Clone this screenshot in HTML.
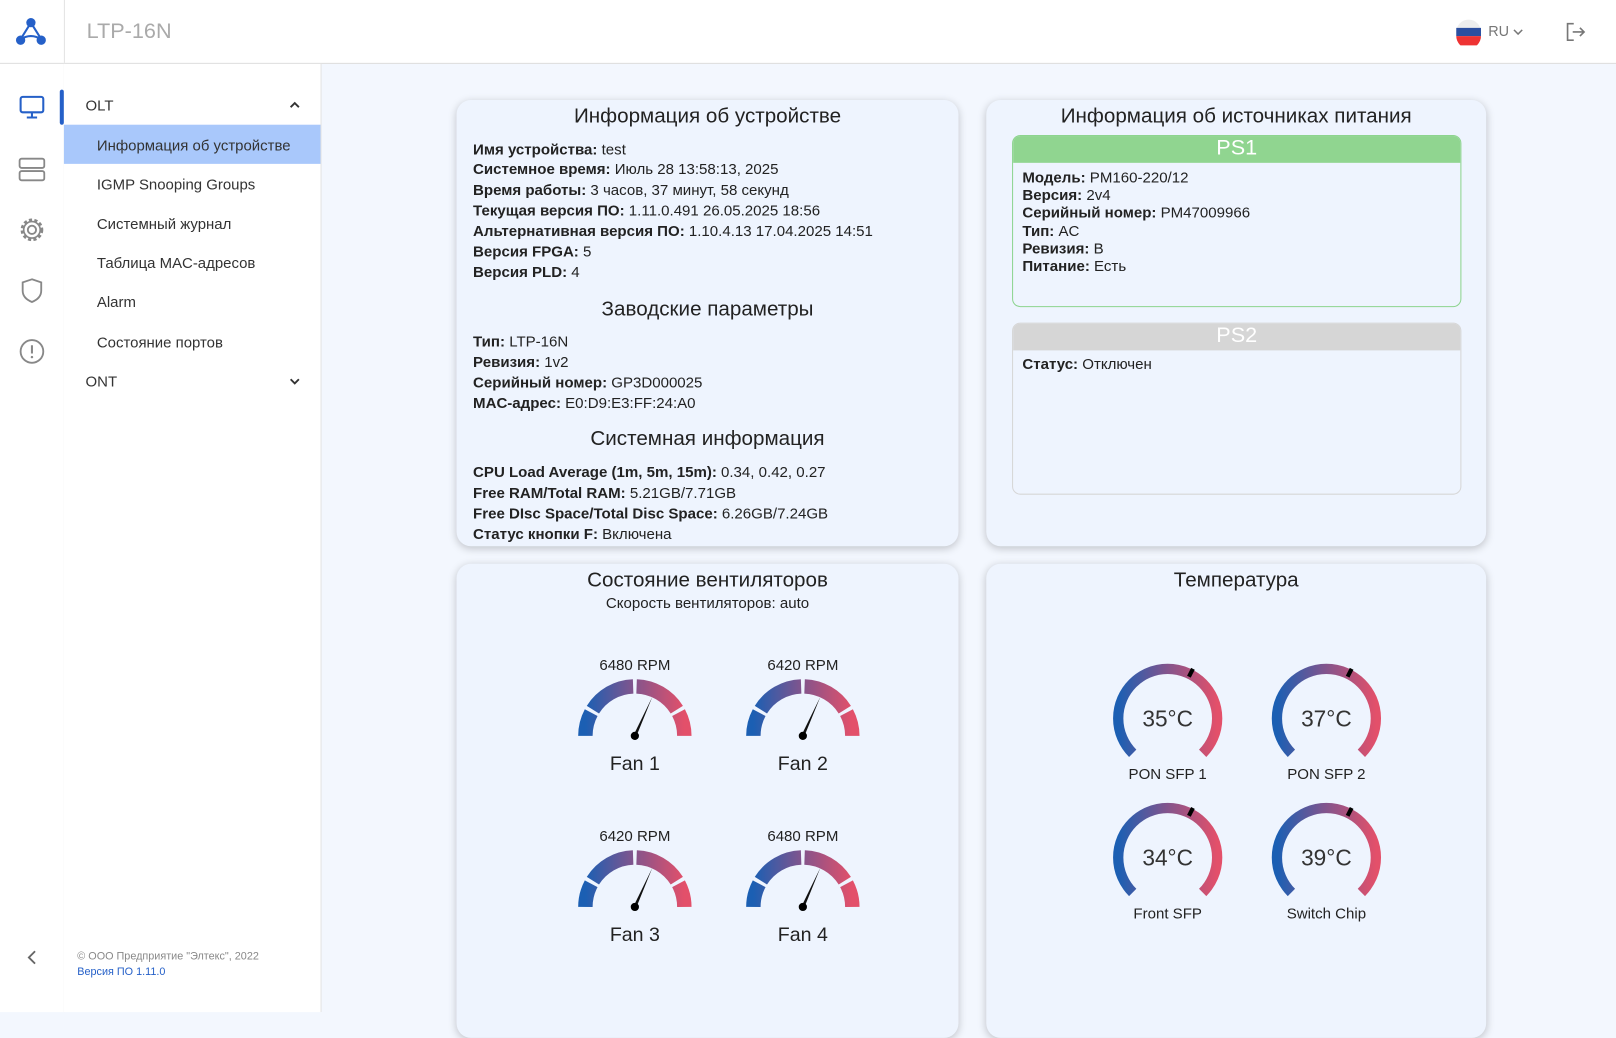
<!DOCTYPE html>
<html><head><meta charset="utf-8"><style>
html,body{margin:0;padding:0;width:1616px;height:994px;overflow:hidden;background:#f3f7fe}
#w{position:absolute;left:0;top:0;width:1568px;height:980px;transform:scale(1.030612);transform-origin:0 0;font-family:"Liberation Sans","DejaVu Sans",sans-serif;color:#222}
.a{position:absolute}
.hdr{left:0;top:0;width:1568px;height:61px;background:#fff;border-bottom:1px solid #ddd}
.icol{left:0;top:62px;width:62px;height:920px;background:#fff;border-right:1px solid #e3e3e3}
.menu{left:62px;top:62px;width:249px;height:920px;background:#fff;border-right:1px solid #e3e3e3}
.mi{position:absolute;left:32px;font-size:14.5px;color:#333}
.card{position:absolute;background:#eef4fe;border-radius:14px;box-shadow:0 2px 8px rgba(0,0,0,.22)}
.t{position:absolute;width:100%;text-align:center;font-size:20px;color:#222}
.ln{position:absolute;left:16px;font-size:14.6px;color:#222;white-space:nowrap}
.ln b{font-weight:bold}
.ps{position:absolute;left:25px;width:434px;border-radius:8px;overflow:hidden;background:#eef4fe}
.psh{height:26px;text-align:center;color:#fff;font-size:21px;line-height:24px}
.ic{position:absolute;left:18px;width:26px;height:26px}
</style></head><body><div id="w">
<div class="a hdr"></div>
<div class="a" style="left:62px;top:0;width:1px;height:61px;background:#e3e3e3"></div>
<svg class="a" style="left:14px;top:16px" width="32" height="30" viewBox="0 0 32 30"><line x1="16" y1="6" x2="6" y2="22" stroke="#2560c8" stroke-width="2"/><line x1="16" y1="6" x2="26" y2="22" stroke="#2560c8" stroke-width="2"/><path d="M6 22 Q16 16 26 22" stroke="#2560c8" stroke-width="2" fill="none"/><circle cx="16" cy="6" r="4.5" fill="#2560c8"/><circle cx="6" cy="23" r="4.5" fill="#2560c8"/><circle cx="26" cy="23" r="4.5" fill="#2560c8"/></svg>
<div class="a" style="left:84px;top:19px;font-size:21px;color:#aaa">LTP-16N</div>
<svg class="a" style="left:1412px;top:18px" width="26" height="26"><circle cx="13" cy="13" r="12" fill="#eee"/><path d="M1 9h24v8H1z" fill="#2c4fa0"/><path d="M1 17h24a12 12 0 0 1-24 0z" fill="#e33"/></svg>
<div class="a" style="left:1444px;top:22px;font-size:14px;color:#777">RU</div>
<svg class="a" style="left:1467px;top:26px" width="12" height="10"><path d="M2 3l4 4 4-4" stroke="#777" stroke-width="1.5" fill="none"/></svg>
<svg class="a" style="left:1518px;top:20px" width="22" height="22"><path d="M9 3H3v16h6M8 11h11M15 7l4 4-4 4" stroke="#777" stroke-width="1.6" fill="none"/></svg>
<div class="a icol">
<svg class="ic" style="top:29px" viewBox="0 0 26 26"><rect x="2" y="3" width="22" height="15" rx="2" fill="none" stroke="#2560c8" stroke-width="2"/><path d="M13 18v5M8 23h10" stroke="#2560c8" stroke-width="2"/></svg>
<svg class="ic" style="top:89px" viewBox="0 0 26 26"><rect x="1" y="3" width="24" height="9" rx="2" fill="none" stroke="#888" stroke-width="1.8"/><rect x="1" y="15" width="24" height="9" rx="2" fill="none" stroke="#888" stroke-width="1.8"/></svg>
<svg class="ic" style="top:148px" viewBox="0 0 26 26"><circle cx="13" cy="13" r="4" fill="none" stroke="#888" stroke-width="1.8"/><circle cx="13" cy="13" r="9.5" fill="none" stroke="#888" stroke-width="3" stroke-dasharray="3 2.2"/><circle cx="13" cy="13" r="8" fill="none" stroke="#888" stroke-width="1.6"/></svg>
<svg class="ic" style="top:207px" viewBox="0 0 26 26"><path d="M13 2l9 3v8c0 6-4 9-9 11-5-2-9-5-9-11V5z" fill="none" stroke="#888" stroke-width="1.8"/></svg>
<svg class="ic" style="top:266px" viewBox="0 0 26 26"><circle cx="13" cy="13" r="11" fill="none" stroke="#888" stroke-width="1.8"/><path d="M13 7v8" stroke="#888" stroke-width="2"/><circle cx="13" cy="18.5" r="1.2" fill="#888"/></svg>
<svg class="a" style="left:24px;top:859px" width="14" height="16"><path d="M10 2L4 8l6 6" stroke="#666" stroke-width="1.8" fill="none"/></svg>
</div>
<div class="a" style="left:58px;top:87px;width:4px;height:34px;background:#2560c8;border-radius:3px"></div>
<div class="a menu">
<div class="mi" style="left:21px;top:33px">OLT</div>
<svg class="a" style="left:218px;top:35px" width="12" height="10"><path d="M2 7l4-4 4 4" stroke="#333" stroke-width="1.8" fill="none"/></svg>
<div class="a" style="left:0;top:59px;width:249px;height:38px;background:#a9c8fb"></div>
<div class="mi" style="top:72px">Информация об устройстве</div>
<div class="mi" style="top:110px">IGMP Snooping Groups</div>
<div class="mi" style="top:148px">Системный журнал</div>
<div class="mi" style="top:186px">Таблица MAC-адресов</div>
<div class="mi" style="top:224px">Alarm</div>
<div class="mi" style="top:263px">Состояние портов</div>
<div class="mi" style="left:21px;top:301px">ONT</div>
<svg class="a" style="left:218px;top:303px" width="12" height="10"><path d="M2 3l4 4 4-4" stroke="#333" stroke-width="1.8" fill="none"/></svg>
<div class="a" style="left:13px;top:860px;font-size:10.5px;color:#888">© ООО Предприятие "Элтекс", 2022</div>
<div class="a" style="left:13px;top:875px;font-size:10.5px;color:#2560c8">Версия ПО 1.11.0</div>
</div>

<div class="card" style="left:443px;top:97px;width:487px;height:433px">
<div class="t" style="top:5px">Информация об устройстве</div>
<div class="ln" style="top:41px"><b>Имя устройства:</b> test</div>
<div class="ln" style="top:60px"><b>Системное время:</b> Июль 28 13:58:13, 2025</div>
<div class="ln" style="top:80px"><b>Время работы:</b> 3 часов, 37 минут, 58 секунд</div>
<div class="ln" style="top:100px"><b>Текущая версия ПО:</b> 1.11.0.491 26.05.2025 18:56</div>
<div class="ln" style="top:120px"><b>Альтернативная версия ПО:</b> 1.10.4.13 17.04.2025 14:51</div>
<div class="ln" style="top:140px"><b>Версия FPGA:</b> 5</div>
<div class="ln" style="top:160px"><b>Версия PLD:</b> 4</div>
<div class="t" style="top:192px">Заводские параметры</div>
<div class="ln" style="top:227px"><b>Тип:</b> LTP-16N</div>
<div class="ln" style="top:247px"><b>Ревизия:</b> 1v2</div>
<div class="ln" style="top:267px"><b>Серийный номер:</b> GP3D000025</div>
<div class="ln" style="top:287px"><b>MAC-адрес:</b> E0:D9:E3:FF:24:A0</div>
<div class="t" style="top:318px">Системная информация</div>
<div class="ln" style="top:354px"><b>CPU Load Average (1m, 5m, 15m):</b> 0.34, 0.42, 0.27</div>
<div class="ln" style="top:374px"><b>Free RAM/Total RAM:</b> 5.21GB/7.71GB</div>
<div class="ln" style="top:394px"><b>Free DIsc Space/Total Disc Space:</b> 6.26GB/7.24GB</div>
<div class="ln" style="top:414px"><b>Статус кнопки F:</b> Включена</div>
</div>

<div class="card" style="left:957px;top:97px;width:485px;height:433px">
<div class="t" style="top:5px">Информация об источниках питания</div>
<div class="ps" style="top:34px;height:165px;border:1px solid #8dd48f">
<div class="psh" style="background:#90d590">PS1</div>
<div class="ln" style="left:9px;top:33px"><b>Модель:</b> PM160-220/12</div>
<div class="ln" style="left:9px;top:50px"><b>Версия:</b> 2v4</div>
<div class="ln" style="left:9px;top:67px"><b>Серийный номер:</b> PM47009966</div>
<div class="ln" style="left:9px;top:85px"><b>Тип:</b> AC</div>
<div class="ln" style="left:9px;top:102px"><b>Ревизия:</b> B</div>
<div class="ln" style="left:9px;top:119px"><b>Питание:</b> Есть</div>
</div>
<div class="ps" style="top:216px;height:165px;border:1px solid #d6d6d6">
<div class="psh" style="background:#d6d6d6">PS2</div>
<div class="ln" style="left:9px;top:32px"><b>Статус:</b> Отключен</div>
</div>
</div>

<div class="card" style="left:443px;top:547px;width:487px;height:460px">
<div class="t" style="top:5px">Состояние вентиляторов</div>
<div class="t" style="top:31px;font-size:14.6px">Скорость вентиляторов: auto</div>
</div>
<div class="card" style="left:957px;top:547px;width:485px;height:460px">
<div class="t" style="top:5px">Температура</div>
</div>

<svg class="a" style="left:0;top:0" width="1568" height="965">
<defs><linearGradient id="g" x1="0" x2="1" y1="0" y2="0"><stop offset="0" stop-color="#1b5fb3"/><stop offset=".5" stop-color="#84548c"/><stop offset="1" stop-color="#e3506a"/></linearGradient>
<g id="fan"><g fill="none" stroke-width="14">
<path d="M-48 0A48 48 0 0 1-42.38-22.53 M-40.71-25.44A48 48 0 0 1-1.68-47.97 M1.68-47.97A48 48 0 0 1 40.71-25.44 M42.38-22.53A48 48 0 0 1 48 0" stroke="url(#g)"/></g>
<polygon points="-1.6,0 1.6,0 17,-38" fill="#111"/><circle r="4" fill="#000"/></g>
<g id="tmp"><path d="M-33.94 33.94A48 48 0 1 1 33.94 33.94" fill="none" stroke="url(#g)" stroke-width="10"/><line x1="20.6" y1="-40.4" x2="24.5" y2="-48.1" stroke="#000" stroke-width="4"/></g></defs>
<g font-size="14.6" fill="#222" text-anchor="middle">
<use href="#fan" x="616" y="714"/><use href="#fan" x="779" y="714"/><use href="#fan" x="616" y="880"/><use href="#fan" x="779" y="880"/>
<text x="616" y="650">6480 RPM</text><text x="779" y="650">6420 RPM</text><text x="616" y="816">6420 RPM</text><text x="779" y="816">6480 RPM</text>
<text x="616" y="747" font-size="19">Fan 1</text><text x="779" y="747" font-size="19">Fan 2</text><text x="616" y="913" font-size="19">Fan 3</text><text x="779" y="913" font-size="19">Fan 4</text>
<use href="#tmp" x="1133" y="697"/><use href="#tmp" x="1287" y="697"/><use href="#tmp" x="1133" y="832"/><use href="#tmp" x="1287" y="832"/>
<g font-size="22" fill="#333"><text x="1133" y="705">35°C</text><text x="1287" y="705">37°C</text><text x="1133" y="840">34°C</text><text x="1287" y="840">39°C</text></g>
<text x="1133" y="756">PON SFP 1</text><text x="1287" y="756">PON SFP 2</text><text x="1133" y="891">Front SFP</text><text x="1287" y="891">Switch Chip</text>
</g></svg>
</div></body></html>
